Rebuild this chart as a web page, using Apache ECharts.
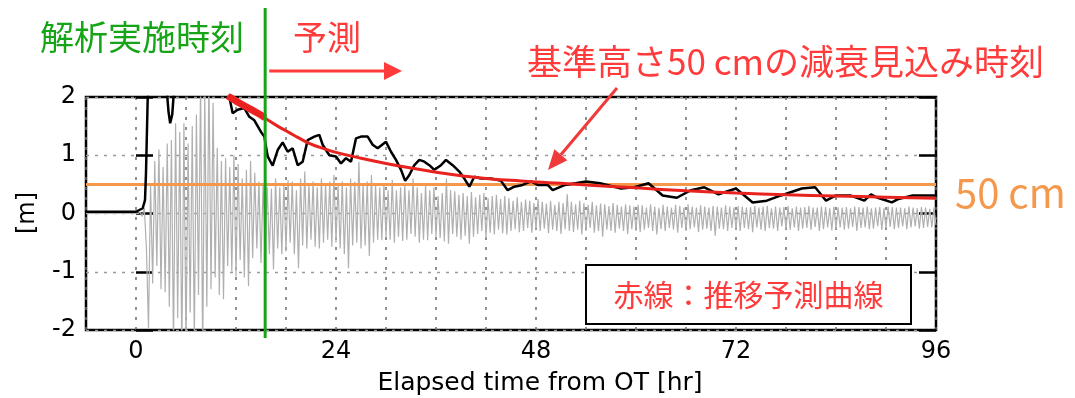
<!DOCTYPE html>
<html>
<head>
<meta charset="utf-8">
<script src="https://cdn.jsdelivr.net/npm/echarts@6/dist/echarts.min.js"></script>
<style>
  html, body { margin: 0; padding: 0; background: #fff; }
  #chart { width: 1075px; height: 398px; }
</style>
</head>
<body>
<div id="chart"></div>
<script>
// Axis ranges and labelled ticks
const xLabelStep = 24;
const xGridStep = 6;
const xMin = -6, xMax = 96;
const yMin = -2, yMax = 2;

// Time of analysis [hr] and reference height [m]
const analysisTime = 15.5;
const referenceHeight = 0.5;

// Observed tsunami height (smoothed envelope) [hr], [m]
const obsT = [-6, 0, 0.8, 1.08, 1.2, 1.4, 1.6, 3.5, 3.7, 3.9, 4.1, 4.35, 4.6, 4.8, 10.8,
  11.2, 11.6, 12.2, 13.0, 13.6, 14.2, 15.0, 15.4, 15.8, 16.4, 17.0, 17.6, 18.2, 18.8, 19.4,
  20.0, 20.6, 21.4, 22.0, 22.4, 23.2, 24.0, 24.6, 25.2, 25.8, 26.4, 27.0, 27.8, 28.4, 29.0,
  30.0, 30.6, 31.2, 31.8, 32.3, 32.8, 33.4, 34.0, 34.6, 35.2, 35.8, 36.6, 37.2, 38.0, 38.8,
  39.4, 40.0, 40.6, 41.4, 42.6, 43.8, 44.6, 45.4, 46.4, 47.4, 48.2, 49.4, 50.0, 51.5, 54.0,
  55.7, 58.2, 59.8, 61.5, 63.2, 64.9, 66.6, 68.2, 69.9, 72.0, 74.0, 75.7, 77.4, 79.9, 81.5,
  82.8, 84.0, 85.7, 87.4, 88.2, 89.0, 90.7, 91.5, 93.2, 96];
const obsH = [0.03, 0.03, 0.09, 0.23, 0.7, 1.95, 2.4, 2.4, 2.1, 1.75, 1.55, 1.7, 2.2, 2.6, 2.4,
  2.0, 1.72, 1.78, 1.81, 1.66, 1.60, 1.40, 1.32, 0.98, 0.82, 1.09, 1.22, 1.06, 1.12, 0.83,
  0.89, 1.26, 1.32, 1.35, 1.18, 1.00, 0.98, 0.86, 0.95, 0.89, 1.29, 1.32, 1.32, 1.18, 1.12,
  1.23, 1.06, 0.92, 0.75, 0.56, 0.66, 0.83, 0.92, 0.89, 0.83, 0.75, 0.83, 0.92, 0.83, 0.72,
  0.60, 0.46, 0.63, 0.60, 0.60, 0.56, 0.40, 0.46, 0.49, 0.55, 0.49, 0.49, 0.40, 0.49, 0.55,
  0.52, 0.43, 0.45, 0.52, 0.31, 0.27, 0.40, 0.45, 0.33, 0.43, 0.19, 0.22, 0.31, 0.43, 0.45,
  0.22, 0.31, 0.31, 0.22, 0.33, 0.27, 0.19, 0.25, 0.31, 0.31];

// Predicted decay curve [hr], [m]
const fitT = [11, 12, 13, 14, 15, 16, 17, 18, 19, 20, 21, 22, 24, 27, 30, 33, 36, 39, 42, 45,
  48, 51, 54, 60, 66, 72, 78, 84, 90, 96];
const fitH = [2.02, 1.93, 1.85, 1.77, 1.69, 1.59, 1.50, 1.42, 1.34, 1.26, 1.19, 1.14, 1.05, 0.95,
  0.86, 0.78, 0.71, 0.65, 0.60, 0.57, 0.54, 0.52, 0.49, 0.44, 0.39, 0.35, 0.32, 0.30, 0.28, 0.26];

// Fitting window of the predicted curve (drawn thick)
const bandT = [11, 12, 13, 14, 15, 15.5];
const bandH = [2.02, 1.93, 1.85, 1.77, 1.69, 1.64];

// Tide gauge waveform: quiet lead-in, then samples every 0.25 hr from 0.5 hr
const waveLeadT = [-6, 0.25];
const waveLeadH = [0.0, 0.0];
const waveStart = 0.5;
const waveStep = 0.25;
const waveH = [
  0.02, -0.05, 0.1, -0.6,
  -1.97, 0.5, -1.2, 0.9,
  -0.9, 1.1, -1.3, 0.8,
  -1.35, 1.2, -1.6, 1.26,
  -2.3, 1.55, -1.8, 1.4,
  -2.4, 1.55, -2.3, 1.2,
  -1.7, 1.5, -2.2, 1.7,
  -1.4, 2.3, -2.5, 2.1,
  -1.6, 2.4, -1.3, 1.9,
  -1.1, 1.13, -1.4, 0.9,
  -1.47, 0.95, -0.9, 0.8,
  -1.0, 1.0, -1.08, 0.85,
  -0.8, 0.6, -1.1, 0.75,
  -1.25, 0.9, -0.77, 0.7,
  -0.6, 0.55, -0.85, 0.5,
  -0.55, 0.45, -0.7, 0.43,
  -0.96, 0.6, -0.6, 0.45,
  -0.7, 0.5, -0.65, 0.57,
  -0.5, 0.55, -0.7, 0.4,
  -0.94, 0.6, -0.55, 0.72,
  -0.6, 0.5, -0.45, 0.55,
  -0.57, 0.45, -0.6, 0.6,
  -0.5, 0.5, -0.45, 0.55,
  -0.57, 0.66, -0.5, 0.5,
  -0.6, 0.55, -0.7, 0.45,
  -0.94, 0.6, -0.55, 0.55,
  -0.5, 0.89, -0.6, 0.5,
  -0.55, 0.55, -0.73, 0.66,
  -0.5, 0.5, -0.45, 0.45,
  -0.46, 0.5, -0.4, 0.4,
  -0.45, 0.58, -0.5, 0.4,
  -0.4, 0.45, -0.47, 0.5,
  -0.45, 0.4, -0.35, 0.6,
  -0.4, 0.45, -0.5, 0.35,
  -0.45, 0.49, -0.46, 0.4,
  -0.35, 0.45, -0.4, 0.3,
  -0.42, 0.35, -0.48, 0.6,
  -0.52, 0.4, -0.35, 0.38,
  -0.4, 0.32, -0.45, 0.35,
  -0.38, 0.3, -0.52, 0.37,
  -0.4, 0.28, -0.35, 0.32,
  -0.3, 0.35, -0.42, 0.26,
  -0.33, 0.3, -0.36, 0.32,
  -0.28, 0.25, -0.34, 0.3,
  -0.36, 0.26, -0.3, 0.22,
  -0.27, 0.28, -0.32, 0.2,
  -0.3, 0.24, -0.25, 0.22,
  -0.33, 0.18, -0.27, 0.25,
  -0.3, 0.2, -0.26, 0.17,
  -0.34, 0.22, -0.28, 0.15,
  -0.3, 0.2, -0.35, 0.18,
  -0.27, 0.33, -0.3, 0.2,
  -0.32, 0.16, -0.28, 0.22,
  -0.36, 0.18, -0.3, 0.15,
  -0.25, 0.2, -0.33, 0.14,
  -0.3, 0.17, -0.4, 0.16,
  -0.28, 0.13, -0.3, 0.18,
  -0.33, 0.15, -0.26, 0.12,
  -0.3, 0.16, -0.35, 0.14,
  -0.27, 0.12, -0.3, 0.15,
  -0.32, 0.14, -0.28, 0.1,
  -0.25, 0.16, -0.3, 0.12,
  -0.36, 0.1, -0.27, 0.15,
  -0.3, 0.12, -0.25, 0.1,
  -0.28, 0.15, -0.33, 0.13,
  -0.25, 0.1, -0.3, 0.16,
  -0.27, 0.12, -0.24, 0.1,
  -0.32, 0.14, -0.28, 0.12,
  -0.26, 0.1, -0.3, 0.13,
  -0.38, 0.12, -0.26, 0.1,
  -0.27, 0.14, -0.3, 0.12,
  -0.25, 0.1, -0.28, 0.13,
  -0.3, 0.12, -0.25, 0.1,
  -0.27, 0.11, -0.32, 0.13,
  -0.24, 0.1, -0.28, 0.12,
  -0.3, 0.13, -0.25, 0.09,
  -0.26, 0.12, -0.3, 0.1,
  -0.22, 0.11, -0.27, 0.13,
  -0.28, 0.09, -0.24, 0.12,
  -0.3, 0.1, -0.26, 0.11,
  -0.25, 0.13, -0.28, 0.1,
  -0.23, 0.1, -0.3, 0.12,
  -0.27, 0.11, -0.24, 0.09,
  -0.29, 0.12, -0.26, 0.1,
  -0.24, 0.1, -0.28, 0.11,
  -0.26, 0.09, -0.23, 0.12,
  -0.3, 0.11, -0.25, 0.1,
  -0.24, 0.12, -0.27, 0.09,
  -0.26, 0.1, -0.22, 0.11,
  -0.28, 0.09, -0.25, 0.12,
  -0.23, 0.11, -0.27, 0.1,
  -0.25, 0.1, -0.22, 0.09,
  -0.27, 0.12, -0.24, 0.1,
  -0.22, 0.09, -0.26, 0.11,
  -0.25, 0.1, -0.23, 0.08,
  -0.24, 0.1, -0.2
];

// Text
const yName = '[m]';
const xName = 'Elapsed time from OT [hr]';
const analysisLabel = '解析実施時刻';
const forecastLabel = '予測';
const decayLabel = '基準高さ50 cmの減衰見込み時刻';
const refLabel = '50 cm';
const curveNote = '赤線：推移予測曲線';

const JP = "'Noto Sans CJK JP', 'Noto Sans', sans-serif";
const LAT = "'DejaVu Sans', sans-serif";
const RED = '#ff3b3b';
const GREEN = '#16a516';
const ORANGE = '#f4984c';

const zip = (a, b) => a.map((v, i) => [v, b[i]]);
const waveData = zip(waveLeadT, waveLeadH).concat(
  waveH.map((v, i) => [waveStart + i * waveStep, v]));

const chart = echarts.init(document.getElementById('chart'), null, { renderer: 'canvas' });

const yAxisBase = {
  type: 'value', min: yMin, max: yMax, interval: 1,
  axisLine: { show: false },
  axisTick: { show: true, inside: true, length: 17, lineStyle: { color: '#000', width: 2.5 } }
};

chart.setOption({
  animation: false,
  backgroundColor: '#fff',
  grid: { left: 86, right: 139, top: 97, bottom: 68, show: true, borderColor: '#000', borderWidth: 2.5, backgroundColor: 'transparent' },
  xAxis: {
    type: 'value', min: xMin, max: xMax, interval: xGridStep,
    axisLine: { show: false }, axisTick: { show: false },
    axisLabel: {
      color: '#000', fontSize: 24, fontFamily: LAT, margin: 10,
      formatter: v => (v >= 0 && v % xLabelStep === 0) ? String(v) : ''
    },
    splitLine: { show: true, lineStyle: { color: '#6e6e6e', type: [3, 7], width: 1.5 } }
  },
  yAxis: [
    Object.assign({}, yAxisBase, {
      position: 'left',
      axisLabel: { color: '#000', fontSize: 24, fontFamily: LAT, margin: 10 },
      splitLine: { show: true, lineStyle: { color: '#9a9a9a', type: [3, 6], width: 1.3 } }
    }),
    Object.assign({}, yAxisBase, {
      position: 'right',
      axisLabel: { show: false },
      splitLine: { show: false }
    })
  ],
  series: [
    { type: 'line', name: 'wave', data: waveData, showSymbol: false, z: 2,
      lineStyle: { color: '#b0b0b0', width: 1.2 } },
    { type: 'line', name: 'reference', data: [[xMin, referenceHeight], [xMax, referenceHeight]],
      showSymbol: false, z: 3, lineStyle: { color: ORANGE, width: 3 } },
    { type: 'line', name: 'observed', data: zip(obsT, obsH), showSymbol: false, z: 4,
      lineStyle: { color: '#000', width: 2.5 } },
    { type: 'line', name: 'fitWindow', data: zip(bandT, bandH), showSymbol: false, z: 5,
      lineStyle: { color: '#ee2222', width: 7 } },
    { type: 'line', name: 'forecast', data: zip(fitT, fitH), showSymbol: false, smooth: true, z: 5,
      lineStyle: { color: '#e8231f', width: 3 } }
  ]
});

function arrow(x1, y1, x2, y2, color, width, headLen, headW) {
  const ang = Math.atan2(y2 - y1, x2 - x1);
  const bx = x2 - headLen * Math.cos(ang), by = y2 - headLen * Math.sin(ang);
  const px = -Math.sin(ang) * headW / 2, py = Math.cos(ang) * headW / 2;
  return [
    { type: 'line', shape: { x1, y1, x2: bx, y2: by }, style: { stroke: color, lineWidth: width }, z: 20 },
    { type: 'polygon', shape: { points: [[x2, y2], [bx + px, by + py], [bx - px, by - py]] },
      style: { fill: color }, z: 20 }
  ];
}

const gx = chart.convertToPixel({ xAxisIndex: 0 }, analysisTime);
const refY = chart.convertToPixel({ yAxisIndex: 0 }, referenceHeight);

chart.setOption({
  graphic: [
    { type: 'line', shape: { x1: gx, y1: 8, x2: gx, y2: 338 }, style: { stroke: GREEN, lineWidth: 3 }, z: 30 },
    { type: 'text', x: 40, y: 37, style: { text: analysisLabel, fill: GREEN, font: `34px ${JP}`, verticalAlign: 'middle' }, z: 20 },
    { type: 'text', x: 293, y: 37, style: { text: forecastLabel, fill: RED, font: `34px ${JP}`, verticalAlign: 'middle' }, z: 20 },
    ...arrow(gx + 4, 71, 402, 71, RED, 3, 18, 18),
    { type: 'text', x: 527, y: 62, style: { text: decayLabel, fill: RED, font: `35px ${JP}`, verticalAlign: 'middle' }, z: 20 },
    ...arrow(617, 88, 548, 170, '#f03a3a', 3, 20, 17),
    { type: 'text', x: 955, y: refY + 8, style: { text: refLabel, fill: ORANGE, font: `40px ${JP}`, verticalAlign: 'middle' }, z: 20 },
    { type: 'rect', shape: { x: 586, y: 265, width: 325, height: 59 }, style: { fill: '#fff', stroke: '#000', lineWidth: 2 }, z: 15 },
    { type: 'text', x: 748.5, y: 295, style: { text: curveNote, fill: RED, font: `30px ${JP}`, align: 'center', verticalAlign: 'middle' }, z: 16 },
    { type: 'text', x: 28, y: 213, rotation: Math.PI / 2, style: { text: yName, fill: '#000', font: `24px ${LAT}`, align: 'center', verticalAlign: 'middle' }, z: 20 },
    { type: 'text', x: 540, y: 383, style: { text: xName, fill: '#000', font: `25px ${LAT}`, align: 'center', verticalAlign: 'middle' }, z: 20 }
  ]
});
</script>
</body>
</html>
